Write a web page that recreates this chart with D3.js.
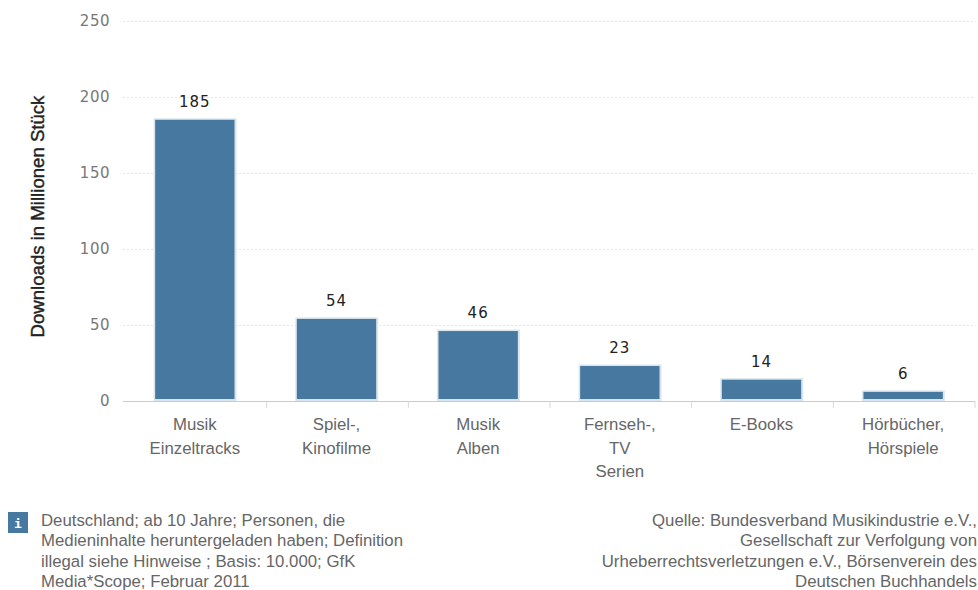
<!DOCTYPE html>
<html><head><meta charset="utf-8">
<script src="https://cdn.jsdelivr.net/npm/d3@7/dist/d3.min.js"></script>
<style>html,body{margin:0;padding:0;background:#fff;overflow:hidden}svg{display:block}</style>
</head><body><svg id="c" width="978" height="590"></svg>
<script>
const categories = [["Musik","Einzeltracks"],["Spiel-,","Kinofilme"],["Musik","Alben"],["Fernseh-,","TV","Serien"],["E-Books"],["Hörbücher,","Hörspiele"]];
const values = [185,54,46,23,14,6];
const yTicks = [0,50,100,150,200,250];
const yTitle = "Downloads in Millionen Stück";
const noteLines = ["Deutschland; ab 10 Jahre; Personen, die","Medieninhalte heruntergeladen haben; Definition","illegal siehe Hinweise ; Basis: 10.000; GfK","Media*Scope; Februar 2011"];
const sourceLines = ["Quelle: Bundesverband Musikindustrie e.V.,","Gesellschaft zur Verfolgung von","Urheberrechtsverletzungen e.V., Börsenverein des","Deutschen Buchhandels"];

const svg = d3.select("#c");
const sans = "'Liberation Sans',Arial,sans-serif";
const dejavu = "'DejaVu Sans',sans-serif";
const y = d3.scaleLinear().domain([0,250]).range([401,21]);
const x = d3.scaleBand().domain(d3.range(values.length)).range([124,974]).paddingInner(0.44).paddingOuter(0.22);
const tickX = i => x(i) + x.bandwidth() + x.step() * 0.22 + 1;

// grid
svg.append("g").selectAll("line").data(yTicks.filter(d=>d>0)).join("line")
  .attr("x1",123).attr("x2",975).attr("y1",d=>y(d)+0.5).attr("y2",d=>y(d)+0.5)
  .attr("stroke","#e6e6e6").attr("stroke-dasharray","2,2");

// y tick labels
svg.append("g").selectAll("text").data(yTicks).join("text")
  .attr("x",110).attr("y",d=>y(d)+4.5).attr("text-anchor","end")
  .attr("font-family",dejavu).attr("font-size",15).attr("fill","#777")
  .attr("letter-spacing",0.5).text(d=>d);

// bars: halo, fill
const gb = svg.append("g");
gb.selectAll("rect.halo").data(values).join("rect").attr("class","halo")
  .attr("x",(d,i)=>x(i)-1.5).attr("width",x.bandwidth()+3.5)
  .attr("y",d=>y(d)-1.5).attr("height",d=>y(0)-y(d)+1.5)
  .attr("fill","#d8e5ed");
gb.selectAll("rect.bar").data(values).join("rect").attr("class","bar")
  .attr("x",(d,i)=>x(i)).attr("width",x.bandwidth())
  .attr("y",d=>y(d)).attr("height",d=>y(0)-y(d)-2)
  .attr("fill","#47789f");

// value labels
svg.append("g").selectAll("text").data(values).join("text")
  .attr("x",(d,i)=>x(i)+x.bandwidth()/2).attr("y",d=>y(d)-13)
  .attr("text-anchor","middle").attr("font-family",dejavu)
  .attr("font-size",15).attr("fill","#222").attr("letter-spacing",1).text(d=>d);

// x axis
svg.append("line").attr("x1",123).attr("x2",975).attr("y1",401.5).attr("y2",401.5).attr("stroke","#c4ccd2");
svg.append("g").selectAll("line").data(d3.range(values.length)).join("line")
  .attr("x1",tickX).attr("x2",tickX)
  .attr("y1",401).attr("y2",408).attr("stroke","#d5d9dc");

// category labels
const cat = svg.append("g").selectAll("text").data(categories).join("text")
  .attr("text-anchor","middle").attr("font-family",sans).attr("font-size",16.8).attr("fill","#666");
cat.each(function(lines,i){
  d3.select(this).selectAll("tspan").data(lines).join("tspan")
    .attr("x",x(i)+x.bandwidth()/2).attr("y",(d,k)=>430+k*23.5).text(d=>d);
});

// y title
svg.append("text").attr("transform","translate(44,216.5) rotate(-90)").attr("text-anchor","middle")
  .attr("font-family",sans).attr("font-size",18.6).attr("fill","#222").attr("stroke","#222").attr("stroke-width",0.4).text(yTitle);

// info icon
svg.append("rect").attr("x",8).attr("y",512).attr("width",20).attr("height",21).attr("fill","#47789f");
svg.append("text").attr("x",18).attr("y",528).attr("text-anchor","middle").attr("font-family","'DejaVu Sans Mono',monospace")
  .attr("font-weight","bold").attr("font-size",13).attr("fill","#fff").text("i");

// note & source
svg.append("g").selectAll("text").data(noteLines).join("text")
  .attr("x",41).attr("y",(d,i)=>526+i*20.3).attr("font-family",sans).attr("font-size",16.8).attr("fill","#666").text(d=>d);
svg.append("g").selectAll("text").data(sourceLines).join("text")
  .attr("x",977).attr("y",(d,i)=>526+i*20.3).attr("text-anchor","end").attr("font-family",sans).attr("font-size",16.8).attr("fill","#666").text(d=>d);
</script></body></html>
